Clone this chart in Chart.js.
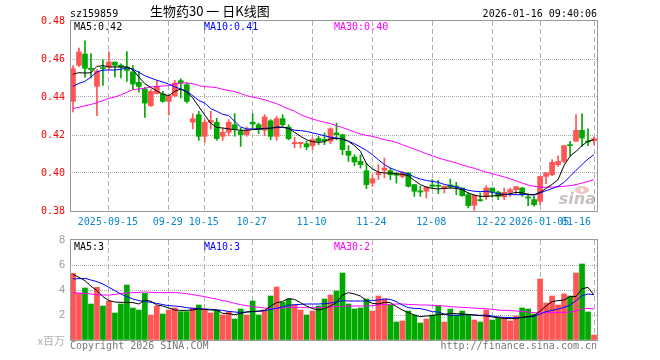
<!DOCTYPE html>
<html lang="zh-CN">
<head>
<meta charset="UTF-8">
<title>生物药30 日K线图</title>
<script src="https://cdn.jsdelivr.net/npm/chart.js"></script>
<style>
  body { margin: 0; background: #fff; }
  .wrap { position: relative; width: 660px; height: 360px; }
  .wrap canvas { position: absolute; left: 0; top: 0; }
</style>
</head>
<body>
<div class="wrap">
  <canvas id="kChart" width="660" height="360"></canvas>
  <canvas id="volChart" width="660" height="360"></canvas>
</div>
<script>
// trading days shown on the chart
const dates = [
  '2025-09-05','2025-09-08','2025-09-09','2025-09-10','2025-09-11','2025-09-12',
  '2025-09-15','2025-09-16','2025-09-17','2025-09-18','2025-09-19',
  '2025-09-22','2025-09-23','2025-09-24','2025-09-25','2025-09-26',
  '2025-09-29','2025-09-30','2025-10-09','2025-10-10',
  '2025-10-13','2025-10-14','2025-10-15','2025-10-16','2025-10-17',
  '2025-10-20','2025-10-21','2025-10-22','2025-10-23','2025-10-24',
  '2025-10-27','2025-10-28','2025-10-29','2025-10-30','2025-10-31',
  '2025-11-03','2025-11-04','2025-11-05','2025-11-06','2025-11-07',
  '2025-11-10','2025-11-11','2025-11-12','2025-11-13','2025-11-14',
  '2025-11-17','2025-11-18','2025-11-19','2025-11-20','2025-11-21',
  '2025-11-24','2025-11-25','2025-11-26','2025-11-27','2025-11-28',
  '2025-12-01','2025-12-02','2025-12-03','2025-12-04','2025-12-05',
  '2025-12-08','2025-12-09','2025-12-10','2025-12-11','2025-12-12',
  '2025-12-15','2025-12-16','2025-12-17','2025-12-18','2025-12-19',
  '2025-12-22','2025-12-23','2025-12-24','2025-12-25','2025-12-26',
  '2025-12-29','2025-12-30','2025-12-31',
  '2026-01-05','2026-01-06','2026-01-07','2026-01-08','2026-01-09',
  '2026-01-12','2026-01-13','2026-01-14','2026-01-15','2026-01-16'
];

// x axis labels
const tickDates = ['2025-09-15','2025-09-29','2025-10-15','2025-10-27','2025-11-10',
  '2025-11-24','2025-12-08','2025-12-22','2026-01-05','2026-01-16'];
const tickTexts = ['2025-09-15','09-29','10-15','10-27','11-10',
  '11-24','12-08','12-22','2026-01-05','01-16'];

const opens = [
  0.4377,0.4567,0.4626,0.4551,0.4456,0.4555,0.4558,0.4584,0.4567,0.4558,
  0.4532,0.4477,0.4442,0.4354,0.4418,0.4416,0.4377,0.4407,0.4486,0.4465,
  0.4268,0.4307,0.4193,0.4267,0.4267,0.4193,0.4214,0.4254,0.4219,0.4202,
  0.4267,0.4254,0.4225,0.4275,0.4193,0.4286,0.4242,0.4154,0.4154,0.4154,
  0.4144,0.4181,0.4177,0.4167,0.4211,0.4202,0.4114,0.4084,0.4061,0.4012,
  0.3947,0.3991,0.4014,0.4012,0.3996,0.3982,0.4000,0.3939,0.3905,0.3904,
  0.3937,0.3935,0.3918,0.3937,0.3930,0.3921,0.3886,0.3830,0.3860,0.3877,
  0.3921,0.3900,0.3874,0.3898,0.3912,0.3921,0.3874,0.3860,0.3851,0.3982,
  0.3991,0.4044,0.4061,0.4147,0.4167,0.4225,0.4167,0.4170
];
const highs = [
  0.4565,0.4658,0.4696,0.4628,0.4544,0.4596,0.4639,0.4584,0.4575,0.4639,
  0.4565,0.4535,0.4451,0.4439,0.4484,0.4430,0.4412,0.4488,0.4496,0.4474,
  0.4312,0.4325,0.4281,0.4325,0.4288,0.4237,0.4281,0.4312,0.4237,0.4242,
  0.4312,0.4263,0.4307,0.4281,0.4298,0.4307,0.4254,0.4188,0.4161,0.4167,
  0.4184,0.4193,0.4211,0.4237,0.4263,0.4202,0.4144,0.4096,0.4096,0.4052,
  0.3991,0.4044,0.4079,0.4026,0.4003,0.4009,0.4003,0.3939,0.3930,0.3930,
  0.3965,0.3961,0.3933,0.3968,0.3951,0.3921,0.3895,0.3886,0.3895,0.3933,
  0.3921,0.3904,0.3921,0.3921,0.3928,0.3925,0.3891,0.3877,0.3982,0.4001,
  0.4070,0.4091,0.4144,0.4167,0.4307,0.4312,0.4232,0.4189
];
const lows = [
  0.4321,0.4560,0.4504,0.4500,0.4302,0.4461,0.4544,0.4505,0.4500,0.4482,
  0.4439,0.4426,0.4293,0.4350,0.4416,0.4372,0.4304,0.4400,0.4395,0.4368,
  0.4232,0.4172,0.4161,0.4232,0.4172,0.4172,0.4196,0.4193,0.4140,0.4193,
  0.4237,0.4207,0.4196,0.4175,0.4172,0.4246,0.4175,0.4132,0.4132,0.4123,
  0.4123,0.4149,0.4149,0.4154,0.4175,0.4096,0.4061,0.4039,0.4026,0.3918,
  0.3930,0.3965,0.3974,0.3965,0.3947,0.3974,0.3926,0.3877,0.3877,0.3868,
  0.3921,0.3891,0.3895,0.3921,0.3886,0.3877,0.3816,0.3804,0.3851,0.3860,
  0.3874,0.3860,0.3860,0.3877,0.3886,0.3877,0.3828,0.3825,0.3833,0.3944,
  0.3986,0.4035,0.4053,0.4088,0.4167,0.4140,0.4144,0.4149
];
const closes = [
  0.4549,0.4637,0.4551,0.4545,0.4537,0.4550,0.4584,0.4567,0.4558,0.4540,
  0.4468,0.4456,0.4368,0.4430,0.4456,0.4377,0.4407,0.4474,0.4474,0.4377,
  0.4286,0.4193,0.4267,0.4277,0.4181,0.4214,0.4267,0.4232,0.4202,0.4225,
  0.4258,0.4228,0.4295,0.4193,0.4286,0.4254,0.4181,0.4161,0.4161,0.4137,
  0.4175,0.4167,0.4170,0.4233,0.4202,0.4123,0.4093,0.4058,0.4044,0.3939,
  0.3970,0.4003,0.4026,0.3991,0.3988,0.4000,0.3930,0.3904,0.3900,0.3925,
  0.3930,0.3930,0.3930,0.3926,0.3926,0.3881,0.3828,0.3882,0.3854,0.3921,
  0.3900,0.3877,0.3898,0.3912,0.3928,0.3886,0.3868,0.3833,0.3982,0.4001,
  0.4056,0.4061,0.4144,0.4144,0.4225,0.4184,0.4163,0.4181
];

// price moving averages
const ma5 = [
  0.4520,0.4528,0.4526,0.4528,0.4561,0.4565,0.4558,0.4558,0.4558,0.4558,
  0.4544,0.4505,0.4470,0.4450,0.4432,0.4415,0.4407,0.4430,0.4442,0.4425,
  0.4395,0.4350,0.4305,0.4262,0.4240,0.4237,0.4232,0.4228,0.4225,0.4225,
  0.4228,0.4232,0.4233,0.4235,0.4242,0.4242,0.4235,0.4214,0.4193,0.4175,
  0.4165,0.4161,0.4165,0.4179,0.4182,0.4179,0.4167,0.4144,0.4114,0.4049,
  0.4021,0.4005,0.4000,0.4000,0.3996,0.3993,0.3986,0.3961,0.3939,0.3926,
  0.3919,0.3916,0.3919,0.3921,0.3919,0.3912,0.3895,0.3884,0.3877,0.3877,
  0.3879,0.3882,0.3886,0.3891,0.3898,0.3895,0.3888,0.3886,0.3898,0.3919,
  0.3940,0.3965,0.4040,0.4088,0.4114,0.4144,0.4167,0.4175
];
const ma10 = [
  0.4456,0.4472,0.4482,0.4505,0.4532,0.4542,0.4542,0.4542,0.4546,0.4554,
  0.4547,0.4530,0.4512,0.4500,0.4488,0.4479,0.4468,0.4453,0.4442,0.4430,
  0.4407,0.4382,0.4368,0.4339,0.4325,0.4309,0.4302,0.4272,0.4242,0.4232,
  0.4232,0.4232,0.4235,0.4237,0.4239,0.4240,0.4235,0.4225,0.4223,0.4219,
  0.4211,0.4204,0.4196,0.4188,0.4184,0.4179,0.4167,0.4154,0.4137,0.4119,
  0.4096,0.4070,0.4044,0.4026,0.4014,0.4003,0.3995,0.3979,0.3968,0.3961,
  0.3956,0.3951,0.3940,0.3933,0.3926,0.3918,0.3909,0.3904,0.3902,0.3904,
  0.3898,0.3891,0.3888,0.3886,0.3886,0.3886,0.3886,0.3884,0.3895,0.3907,
  0.3918,0.3930,0.3951,0.3982,0.4014,0.4044,0.4074,0.4096
];
const ma30 = [
  0.4339,0.4346,0.4353,0.4361,0.4370,0.4381,0.4393,0.4400,0.4411,0.4425,
  0.4439,0.4442,0.4446,0.4453,0.4456,0.4458,0.4460,0.4467,0.4474,0.4474,
  0.4470,0.4460,0.4454,0.4453,0.4449,0.4440,0.4435,0.4428,0.4418,0.4407,
  0.4400,0.4393,0.4386,0.4375,0.4365,0.4351,0.4337,0.4325,0.4307,0.4295,
  0.4284,0.4275,0.4267,0.4260,0.4249,0.4239,0.4228,0.4216,0.4205,0.4198,
  0.4193,0.4184,0.4175,0.4170,0.4161,0.4149,0.4137,0.4126,0.4114,0.4102,
  0.4091,0.4079,0.4070,0.4061,0.4053,0.4042,0.4033,0.4025,0.4014,0.4005,
  0.3996,0.3988,0.3979,0.3970,0.3958,0.3947,0.3937,0.3930,0.3925,0.3925,
  0.3926,0.3928,0.3930,0.3933,0.3939,0.3947,0.3956,0.3965
];

// volume, in millions
const volumes = [
  5.33,3.73,4.16,2.88,4.21,2.72,3.12,2.16,2.88,4.40,
  2.56,2.40,3.73,2.00,2.72,2.08,2.40,2.56,2.27,2.27,
  2.56,2.80,2.40,2.16,2.40,2.00,2.27,1.68,2.48,2.00,
  3.12,2.00,2.40,3.52,4.24,3.01,3.28,2.80,2.40,2.00,
  2.32,2.72,3.28,3.60,3.92,5.36,2.88,2.48,2.56,3.28,
  2.32,3.52,3.28,2.80,1.44,1.52,2.32,2.00,1.36,1.68,
  2.00,2.72,1.44,2.48,2.00,2.32,2.00,1.60,1.44,2.40,
  1.60,1.73,1.76,1.52,1.92,2.56,2.48,2.08,4.88,2.96,
  3.52,2.80,3.68,3.52,5.36,6.08,2.24,0.40
];
const volMa5 = [
  5.25,5.01,4.75,4.30,3.95,3.47,3.15,3.04,3.01,3.01,
  2.99,2.88,3.20,3.10,2.80,2.72,2.56,2.40,2.37,2.37,
  2.40,2.48,2.45,2.40,2.40,2.13,2.11,2.03,2.13,2.24,
  2.29,2.32,2.37,2.72,2.99,3.09,3.31,3.25,2.99,2.72,
  2.51,2.40,2.51,2.72,2.99,3.60,3.79,3.68,3.52,3.15,
  2.93,2.88,3.01,2.99,2.67,2.40,2.19,2.00,1.87,1.92,
  1.95,2.05,2.05,2.13,2.11,2.08,2.05,2.00,1.95,1.92,
  1.84,1.79,1.73,1.71,1.71,1.81,1.87,1.95,2.32,2.72,
  3.07,3.15,3.20,3.47,3.47,4.10,4.21,3.60
];
const volMa10 = [
  4.88,4.91,4.93,4.80,4.67,4.48,4.21,3.95,3.68,3.47,
  3.28,3.15,3.09,3.01,2.93,2.83,2.75,2.72,2.67,2.59,
  2.53,2.51,2.48,2.45,2.40,2.37,2.29,2.24,2.21,2.24,
  2.27,2.29,2.35,2.45,2.53,2.67,2.77,2.83,2.85,2.88,
  2.88,2.88,2.91,2.96,3.04,3.15,3.12,3.12,3.12,3.12,
  3.15,3.20,3.28,3.25,3.07,2.80,2.59,2.53,2.51,2.40,
  2.27,2.24,2.08,1.97,1.97,2.00,2.03,2.00,1.97,2.00,
  1.92,1.84,1.81,1.79,1.79,1.81,1.84,1.89,2.08,2.27,
  2.37,2.48,2.61,2.80,3.15,3.55,3.68,3.63
];
const volMa30 = [
  3.79,3.76,3.73,3.68,3.60,3.60,3.60,3.65,3.73,3.76,
  3.79,3.81,3.84,3.81,3.79,3.79,3.79,3.79,3.76,3.71,
  3.63,3.55,3.47,3.36,3.28,3.15,3.07,2.93,2.83,2.75,
  2.67,2.61,2.56,2.53,2.53,2.56,2.61,2.61,2.61,2.59,
  2.59,2.59,2.61,2.64,2.67,2.69,2.72,2.72,2.72,2.72,
  2.75,2.80,2.83,2.85,2.88,2.88,2.85,2.83,2.80,2.80,
  2.77,2.77,2.72,2.67,2.64,2.61,2.59,2.56,2.53,2.51,
  2.45,2.40,2.37,2.35,2.32,2.29,2.24,2.19,2.16,2.19,
  2.19,2.21,2.21,2.24,2.32,2.48,2.53,2.48
];

const UP = '#ff5555';
const DOWN = '#00a800';
const MONO = "'DejaVu Sans Mono', monospace";

const candleColors = closes.map((c, i) => c > opens[i] ? UP : DOWN);
const bodies = opens.map((o, i) => [o, closes[i]]);
const wicks = lows.map((l, i) => [l, highs[i]]);
const markIdx = tickDates.map(d => dates.indexOf(d));

function maLine(data, color) {
  return {
    type: 'line', data: data, borderColor: color, borderWidth: 1,
    pointRadius: 0, tension: 0, fill: false, order: 0
  };
}

const xScale = {
  offset: true,
  afterFit: s => { s.height = 0; },
  ticks: { display: false, autoSkip: false },
  grid: {
    offset: false, drawTicks: false, lineWidth: 1,
    color: ctx => markIdx.includes(ctx.index) ? '#b0b0b0' : 'rgba(0,0,0,0)'
  },
  border: { display: false, dash: [5, 3] }
};

// frame round the plot area
const framePlugin = {
  id: 'frame',
  afterDraw(chart) {
    const { ctx, chartArea: a } = chart;
    ctx.save();
    ctx.strokeStyle = '#999';
    ctx.lineWidth = 1;
    ctx.strokeRect(a.left + 0.5, a.top - 0.5, a.right - a.left, a.bottom - a.top + 1);
    ctx.restore();
  }
};

function text(ctx, s, x, y, color, font, align) {
  ctx.fillStyle = color;
  ctx.font = font;
  ctx.textAlign = align || 'left';
  ctx.textBaseline = 'alphabetic';
  ctx.fillText(s, x, y);
}

const kTexts = {
  id: 'kTexts',
  afterDraw(chart) {
    const ctx = chart.ctx;
    const a = chart.chartArea;
    const xs = chart.scales.x;
    ctx.save();
    text(ctx, 'sz159859', 70, 17, '#000', '10px ' + MONO);
    text(ctx, '生物药30 一 日K线图', 150, 16, '#000', "13px 'Noto Sans CJK SC'");
    text(ctx, '2026-01-16 09:40:06', 597, 17, '#000', '10px ' + MONO, 'right');
    text(ctx, 'MA5:' + ma5[ma5.length - 1].toFixed(2), 74, 30, '#000', '10px ' + MONO);
    text(ctx, 'MA10:' + ma10[ma10.length - 1].toFixed(2), 204, 30, '#0000ff', '10px ' + MONO);
    text(ctx, 'MA30:' + ma30[ma30.length - 1].toFixed(2), 334, 30, '#ff00ff', '10px ' + MONO);
    markIdx.forEach((idx, k) => {
      const last = k === markIdx.length - 1;
      const x = last ? a.right - 6 : xs.getPixelForValue(idx) - 1;
      text(ctx, tickTexts[k], x, 225, '#0a88d0', '10px ' + MONO, last ? 'right' : 'center');
    });
    // sina watermark
    ctx.fillStyle = 'rgba(225,150,150,0.55)';
    ctx.beginPath();
    ctx.ellipse(582, 190, 7, 4, 0, 0, Math.PI * 2);
    ctx.fill();
    ctx.fillStyle = '#fff';
    ctx.beginPath();
    ctx.arc(582, 190, 1.8, 0, Math.PI * 2);
    ctx.fill();
    text(ctx, 'sina', 596, 204, 'rgba(165,150,150,0.6)', "italic bold 16px 'DejaVu Sans'", 'right');
    ctx.restore();
  }
};

const volTexts = {
  id: 'volTexts',
  afterDraw(chart) {
    const ctx = chart.ctx;
    ctx.save();
    text(ctx, 'MA5:3', 74, 250, '#000', '10px ' + MONO);
    text(ctx, 'MA10:3', 204, 250, '#0000ff', '10px ' + MONO);
    text(ctx, 'MA30:2', 334, 250, '#ff00ff', '10px ' + MONO);
    text(ctx, 'x百万', 65, 345, '#b0b0b0', "11px 'Noto Sans CJK SC'", 'right');
    text(ctx, 'Copyright 2026 SINA.COM', 70, 349, '#777', '10px ' + MONO);
    text(ctx, 'http://finance.sina.com.cn', 597, 349, '#777', '10px ' + MONO, 'right');
    ctx.restore();
  }
};

new Chart(document.getElementById('kChart'), {
  type: 'bar',
  data: {
    labels: dates,
    datasets: [
      maLine(ma5, '#000000'),
      maLine(ma10, '#0000ff'),
      maLine(ma30, '#ff00ff'),
      { data: wicks, backgroundColor: candleColors, barThickness: 1, grouped: false, order: 2 },
      { data: bodies, backgroundColor: candleColors, barThickness: 5, grouped: false, minBarLength: 1, order: 1 }
    ]
  },
  options: {
    responsive: false,
    animation: false,
    devicePixelRatio: 1,
    layout: { padding: { top: 21, right: 63, bottom: 149, left: 0 } },
    plugins: { legend: { display: false }, tooltip: { enabled: false } },
    scales: {
      x: xScale,
      y: {
        min: 0.38, max: 0.48,
        afterFit: s => { s.width = 70; },
        ticks: {
          stepSize: 0.02, color: '#ff0000', padding: 5,
          font: { family: MONO, size: 10 },
          callback: v => v.toFixed(2)
        },
        grid: {
          drawTicks: false,
          color: ctx => (ctx.tick && (ctx.tick.value < 0.381 || ctx.tick.value > 0.479)) ? 'rgba(0,0,0,0)' : '#a8a8a8'
        },
        border: { display: false, dash: [1, 1] }
      }
    }
  },
  plugins: [framePlugin, kTexts]
});

new Chart(document.getElementById('volChart'), {
  type: 'bar',
  data: {
    labels: dates,
    datasets: [
      maLine(volMa5, '#000000'),
      maLine(volMa10, '#0000ff'),
      maLine(volMa30, '#ff00ff'),
      { data: volumes, backgroundColor: candleColors, barThickness: 5, order: 1 }
    ]
  },
  options: {
    responsive: false,
    animation: false,
    devicePixelRatio: 1,
    layout: { padding: { top: 240, right: 63, bottom: 20, left: 0 } },
    plugins: { legend: { display: false }, tooltip: { enabled: false } },
    scales: {
      x: xScale,
      y: {
        min: 0, max: 8,
        afterFit: s => { s.width = 70; },
        ticks: {
          stepSize: 2, color: '#999', padding: 5,
          font: { family: "'Liberation Sans'", size: 11 },
          callback: v => v === 0 ? '' : v
        },
        grid: {
          drawTicks: false,
          color: ctx => (ctx.tick && (ctx.tick.value === 0 || ctx.tick.value === 8)) ? 'rgba(0,0,0,0)' : '#a8a8a8'
        },
        border: { display: false, dash: [1, 1] }
      }
    }
  },
  plugins: [framePlugin, volTexts]
});
</script>
</body>
</html>
